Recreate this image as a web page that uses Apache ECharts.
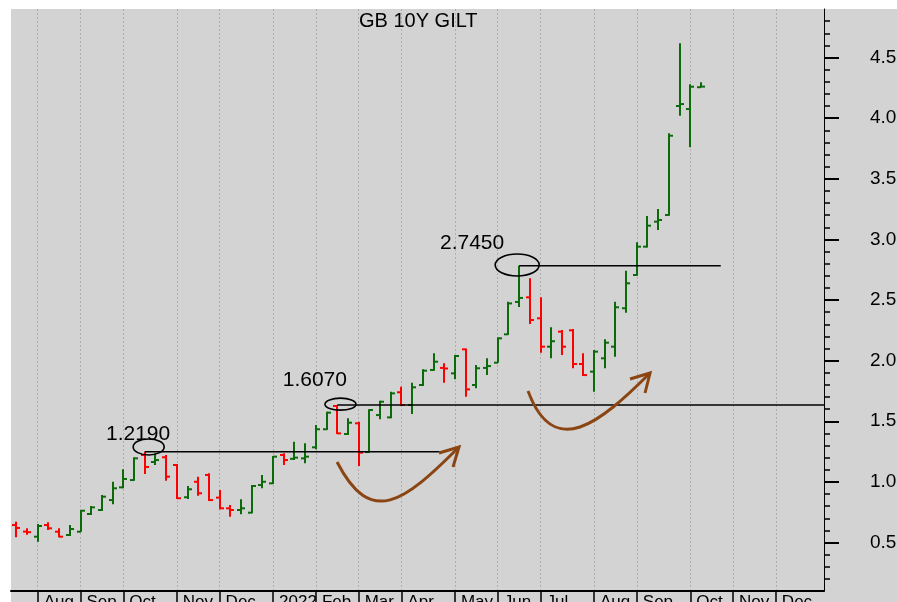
<!DOCTYPE html>
<html><head><meta charset="utf-8">
<script src="https://cdn.jsdelivr.net/npm/echarts@6/dist/echarts.min.js"></script>
<style>
html,body{margin:0;padding:0;background:#fff}
#wrap{position:relative;width:897px;height:602px;background:#fff;overflow:hidden}
#bg{position:absolute;left:11px;top:9px;right:0;bottom:0;background:#d3d3d3}
#c{position:absolute;left:0;top:0;width:897px;height:602px}
</style>
</head><body>
<div id="wrap"><div id="bg"></div><div id="c"></div></div>
<script>
// Weekly bars (week ending Friday)
const weeks = [
 '2021-07-23','2021-07-30','2021-08-06','2021-08-13','2021-08-20','2021-08-27',
 '2021-09-03','2021-09-10','2021-09-17','2021-09-24','2021-10-01','2021-10-08',
 '2021-10-15','2021-10-22','2021-10-29','2021-11-05','2021-11-12','2021-11-19',
 '2021-11-26','2021-12-03','2021-12-10','2021-12-17','2021-12-24','2021-12-31',
 '2022-01-07','2022-01-14','2022-01-21','2022-01-28','2022-02-04','2022-02-11',
 '2022-02-18','2022-02-25','2022-03-04','2022-03-11','2022-03-18','2022-03-25',
 '2022-04-01','2022-04-08','2022-04-15','2022-04-22','2022-04-29','2022-05-06',
 '2022-05-13','2022-05-20','2022-05-27','2022-06-03','2022-06-10','2022-06-17',
 '2022-06-24','2022-07-01','2022-07-08','2022-07-15','2022-07-22','2022-07-29',
 '2022-08-05','2022-08-12','2022-08-19','2022-08-26','2022-09-02','2022-09-09',
 '2022-09-16','2022-09-23','2022-09-30','2022-10-07','2022-10-14','2022-10-21',
 '2022-10-28','2022-11-04','2022-11-11','2022-11-18','2022-11-25','2022-12-02',
 '2022-12-09','2022-12-16','2022-12-23','2022-12-30'
];
const opens = [0.644,0.590,0.548,0.644,0.589,0.562,0.589,0.735,0.768,0.850,
 0.955,1.015,1.222,1.164,1.203,1.139,0.873,1.001,1.057,0.870,
 0.782,0.768,0.746,0.974,0.988,1.222,1.190,1.194,1.285,1.434,
 1.626,1.395,1.483,1.246,1.551,1.532,1.739,1.634,1.799,1.923,
 1.940,1.895,2.093,1.799,1.940,1.983,2.217,2.484,2.522,2.349,
 2.115,2.239,2.250,1.972,1.909,2.019,2.115,2.432,2.706,2.940,
 3.146,3.201,4.100,4.075,4.255];
const highs = [0.672,0.617,0.653,0.667,0.617,0.644,0.768,0.801,0.892,1.001,
 1.104,1.203,1.249,1.236,1.222,1.147,0.966,1.043,1.071,0.933,
 0.809,0.856,0.974,1.057,1.213,1.236,1.331,1.318,1.469,1.579,
 1.634,1.524,1.496,1.598,1.669,1.744,1.785,1.818,1.928,2.060,
 1.978,2.046,2.101,1.964,2.019,2.192,2.486,2.783,2.679,2.522,
 2.275,2.253,2.261,2.060,2.088,2.176,2.486,2.742,2.976,3.193,
 3.250,3.875,4.617,4.279,4.296];
const lows = [0.543,0.564,0.507,0.603,0.543,0.554,0.589,0.727,0.760,0.815,
 0.947,1.010,1.065,1.139,1.010,0.859,0.859,0.886,0.842,0.774,
 0.713,0.733,0.741,0.947,0.982,1.139,1.180,1.153,1.269,1.428,
 1.395,1.387,1.131,1.240,1.516,1.524,1.626,1.560,1.791,1.917,
 1.818,1.846,1.702,1.772,1.881,1.983,2.211,2.443,2.302,2.065,
 2.019,2.046,1.937,1.873,1.744,1.937,2.032,2.395,2.700,2.934,
 3.077,3.195,4.020,3.759,4.255];
const closes = [0.620,0.585,0.636,0.617,0.548,0.611,0.762,0.790,0.878,0.947,
 1.024,1.194,1.123,1.180,1.043,0.865,0.939,0.906,0.850,0.782,
 0.768,0.782,0.966,1.001,1.208,1.180,1.200,1.208,1.434,1.571,
 1.400,1.488,1.241,1.593,1.661,1.730,1.634,1.780,1.917,1.991,
 1.935,2.038,1.763,1.937,1.955,2.184,2.472,2.517,2.335,2.115,
 2.160,2.115,1.972,1.881,2.074,2.148,2.440,2.638,2.940,3.113,
 3.160,3.855,4.116,4.259,4.260];
const monthNames = ['2022','Feb','Mar','Apr','May','Jun','Jul','Aug','Sep','Oct','Nov','Dec'];
const yTickValues = [0.5,1.0,1.5,2.0,2.5,3.0,3.5,4.0,4.5];
const yMinorTickValues = [0.2,0.3,0.4,0.6,0.7,0.8,0.9,1.1,1.2,1.3,1.4,1.6,1.7,1.8,1.9,
 2.1,2.2,2.3,2.4,2.6,2.7,2.8,2.9,3.1,3.2,3.3,3.4,3.6,3.7,3.8,3.9,4.1,4.2,4.3,4.4,4.6,4.7,4.8];
// annotations (week index, yield)
const levelLabels = ['1.2190','1.6070','2.7450'];
const levelBars = [12, 30, 47];
const levelEnds = [39.6, 75.5, 65.85];
const labelPos = [[8.38,1.395],[24.9,1.840],[39.6,2.966]];
const ellipseCenters = [[12.37,1.288],[30.30,1.641],[46.82,2.789]];
const arrowCurves = [
  [[29.98,1.164],[33.15,0.620],[36.24,0.834],[41.38,1.288]],
  [[47.83,1.749],[50.26,1.172],[54.56,1.486],[59.24,1.898]]
];
const arrowWings = [
  [[39.51,1.238],[41.38,1.288],[40.82,1.123]],
  [[57.37,1.848],[59.24,1.898],[58.77,1.733]]
];

const GREEN = '#0b6b0b', RED = '#ff0000', BROWN = '#8b4513';
const FONT = 'Liberation Sans, Arial, sans-serif';

function isMonthStart(i){ return Number(weeks[i].slice(8,10)) <= 7; }
function monthLabel(v){ return monthNames[Number(v.slice(5,7)) - 1]; }

const ohlc = opens.map((o,i)=>[i, o, highs[i], lows[i], closes[i]]);

const chart = echarts.init(document.getElementById('c'), null, {renderer:'canvas'});
chart.setOption({
  animation:false,
  title:{text:'GB 10Y GILT', left:354, top:6, textStyle:{fontSize:20, fontWeight:'normal', color:'#000', fontFamily:FONT}},
  grid:{left:11, right:73, top:9, bottom:11, containLabel:false, outerBoundsMode:'none'},
  xAxis:{
    type:'category', data:weeks, boundaryGap:true,
    axisLine:{show:true, lineStyle:{color:'#000', width:2}},
    axisTick:{show:true, alignWithLabel:true, interval:(i)=>isMonthStart(i), length:14, lineStyle:{color:'#000', width:1.5}},
    axisLabel:{show:true, interval:(i)=>isMonthStart(i), formatter:(v)=>monthLabel(v), align:'left', padding:[0,0,0,6],
      margin:3, verticalAlign:'top', fontSize:17, color:'#000', fontFamily:FONT},
    splitLine:{show:true, alignWithLabel:true, interval:(i)=>isMonthStart(i), lineStyle:{color:'#aeaeae', type:[2,2], width:1}}
  },
  yAxis:[{
    type:'value', position:'right', min:0.1, max:4.9,
    axisLine:{show:true, lineStyle:{color:'#000', width:1}},
    axisTick:{show:true, customValues:yTickValues, length:15, lineStyle:{color:'#000', width:2}},
    axisLabel:{show:true, customValues:yTickValues, formatter:(v)=>v.toFixed(1), margin:46, fontSize:19, color:'#000', fontFamily:FONT},
    splitLine:{show:false}
  },{
    type:'value', position:'right', min:0.1, max:4.9, offset:0,
    axisLine:{show:false},
    axisTick:{show:true, customValues:yMinorTickValues, length:6, lineStyle:{color:'#000', width:1.5}},
    axisLabel:{show:false},
    splitLine:{show:false}
  }],
  series:[{
    type:'custom', data:ohlc, encode:{x:0, y:[1,2,3,4]}, clip:true,
    renderItem:function(params, api){
      const i = api.value(0), o = api.value(1), h = api.value(2), l = api.value(3), c = api.value(4);
      const ph = api.coord([i,h]), pl = api.coord([i,l]), po = api.coord([i,o]), pc = api.coord([i,c]);
      const col = c >= o ? GREEN : RED;
      const x = Math.round(ph[0]) + 0.0;
      const st = {stroke:col, lineWidth:2};
      return {type:'group', children:[
        {type:'line', shape:{x1:x, y1:ph[1], x2:x, y2:pl[1]}, style:st},
        {type:'line', shape:{x1:x-4, y1:po[1], x2:x, y2:po[1]}, style:st},
        {type:'line', shape:{x1:x, y1:pc[1], x2:x+4, y2:pc[1]}, style:st}
      ]};
    }
  }]
});

function px(idx, val){
  const a = chart.convertToPixel({xAxisIndex:0, yAxisIndex:0}, [0, val]);
  const b = chart.convertToPixel({xAxisIndex:0, yAxisIndex:0}, [1, val]);
  return [a[0] + idx*(b[0]-a[0]), a[1]];
}
const ellipseR = [[15.5,8],[15.5,6],[22,11]];
const g = [];
levelBars.forEach((bi,k)=>{
  const p1 = px(bi, highs[bi]), p2 = px(levelEnds[k], highs[bi]);
  g.push({type:'line', shape:{x1:p1[0], y1:p1[1], x2:p2[0], y2:p2[1]}, style:{stroke:'#000', lineWidth:1.6}, z:10});
  const ec = px(ellipseCenters[k][0], ellipseCenters[k][1]);
  g.push({type:'ellipse', shape:{cx:ec[0], cy:ec[1], rx:ellipseR[k][0], ry:ellipseR[k][1]}, style:{fill:null, stroke:'#000', lineWidth:1.6}, z:10});
  const lp = px(labelPos[k][0], labelPos[k][1]);
  g.push({type:'text', x:lp[0], y:lp[1], style:{text:levelLabels[k], fill:'#000', font:'21px '+FONT, textVerticalAlign:'middle', textAlign:'left'}, z:10});
});
arrowCurves.forEach((cv,k)=>{
  const p = cv.map(q=>px(q[0],q[1]));
  g.push({type:'bezierCurve', shape:{x1:p[0][0], y1:p[0][1], cpx1:p[1][0], cpy1:p[1][1], cpx2:p[2][0], cpy2:p[2][1], x2:p[3][0], y2:p[3][1]},
    style:{stroke:BROWN, lineWidth:3, fill:null}, z:10});
  const w = arrowWings[k].map(q=>px(q[0],q[1]));
  g.push({type:'polyline', shape:{points:w}, style:{stroke:BROWN, lineWidth:3, fill:null, lineJoin:'miter'}, z:10});
});
chart.setOption({graphic:g});
</script>
</body></html>
